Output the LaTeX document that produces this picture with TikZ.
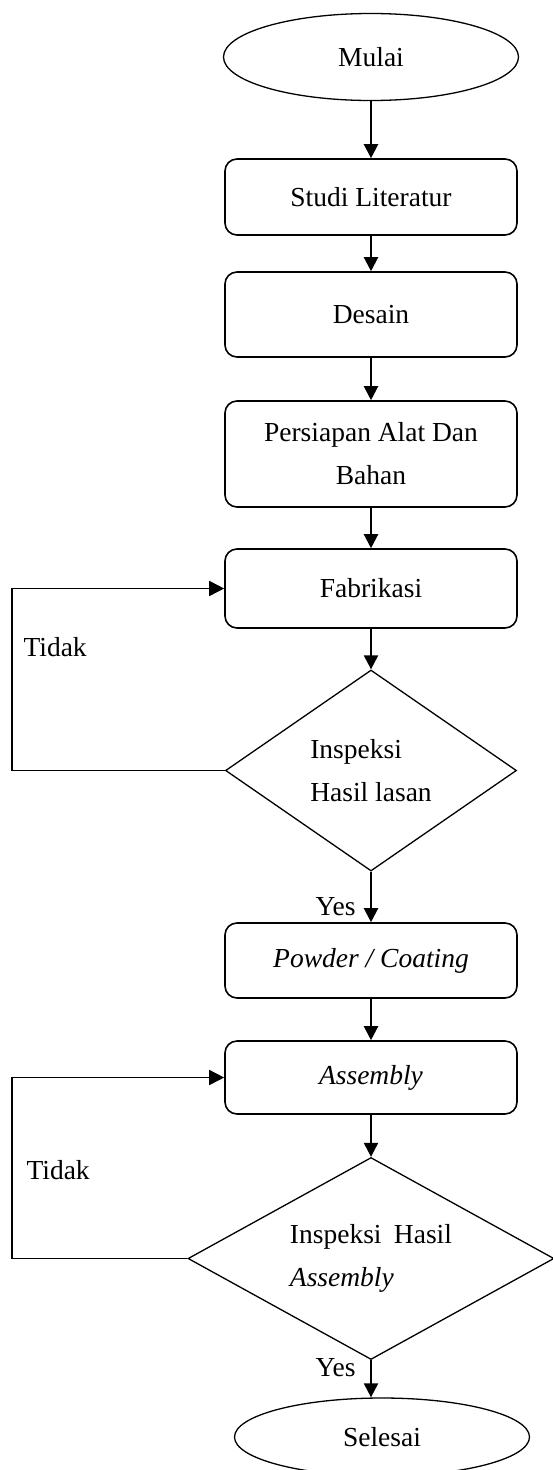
\documentclass[tikz,border=0pt]{standalone}
\usepackage{fontspec}
\setmainfont{Liberation Serif}
\usetikzlibrary{positioning, shapes.geometric, arrows.meta}

\tikzset{
  procbox/.style={draw, line width=1.6pt, rounded corners=12pt, minimum width=292pt, align=center},
  termin/.style={draw, ellipse, line width=1.3pt, minimum width=295pt},
  decision/.style={draw, diamond, line width=1.3pt, align=left, inner sep=0pt},
  arrow/.style={line width=2.2pt, -{Triangle[length=14pt,width=14pt]}},
  loopline/.style={line width=1.6pt, -{Triangle[length=15pt,width=15pt]}},
}

\begin{document}
\begin{tikzpicture}[x=1pt, y=-1pt, font=\fontsize{27.5}{43}\selectfont]
    \useasboundingbox (0,0) rectangle (552,1470);

    % Start, steps and checks
    \node[termin, minimum height=87pt] (mulai) at (371,57) {Mulai};
    \node[procbox, minimum height=76pt] (studi) at (371,197) {Studi Literatur};
    \node[procbox, minimum height=85pt] (desain) at (371,314.5) {Desain};
    \node[procbox, minimum height=106pt] (persiapan) at (371,454) {Persiapan Alat Dan\\Bahan};
    \node[procbox, minimum height=79pt] (fabrikasi) at (371,588.5) {Fabrikasi};
    \node[decision, aspect=1.45, minimum width=291pt, minimum height=201pt] (insp1) at (371,770.5) {Inspeksi\\Hasil lasan};
    \node[procbox, minimum height=75pt] (powder) at (371,960.5) {\textit{Powder / Coating}};
    \node[procbox, minimum height=73pt] (assembly) at (371,1077.5) {\textit{Assembly}};
    \node[decision, aspect=1.8, minimum width=366pt, minimum height=202pt] (insp2) at (371,1258.5) {Inspeksi\hspace{0.45em}Hasil\\\textit{Assembly}};
    \node[termin, minimum height=78pt] (selesai) at (382,1437) {Selesai};

    % Straight flow
    \foreach \from/\to in {mulai/studi, studi/desain, desain/persiapan, persiapan/fabrikasi, fabrikasi/insp1, powder/assembly, assembly/insp2} {
      \draw[arrow] (\from) -- (\to);
    }
    \draw[arrow] (insp1.south) -- node[left=11pt, pos=0.7] (yes1) {Yes} (powder.north);
    \draw[arrow] (insp2.south) -- node[left=11pt, pos=0.2] (yes2) {Yes} (insp2.south |- selesai.north);

    % Loops back when rejected
    \coordinate (bend1) at (12,770.5);
    \coordinate (bend2) at (12,1258.5);
    \draw[loopline] (insp1.west) -- (bend1) |- (fabrikasi.west);
    \draw[loopline] (insp2.west) -- (bend2) |- (assembly.west);
    \node[anchor=west] (tidak1) at (20,647) {Tidak};
    \node[anchor=west] (tidak2) at (23,1170) {Tidak};

\end{tikzpicture}
\end{document}
